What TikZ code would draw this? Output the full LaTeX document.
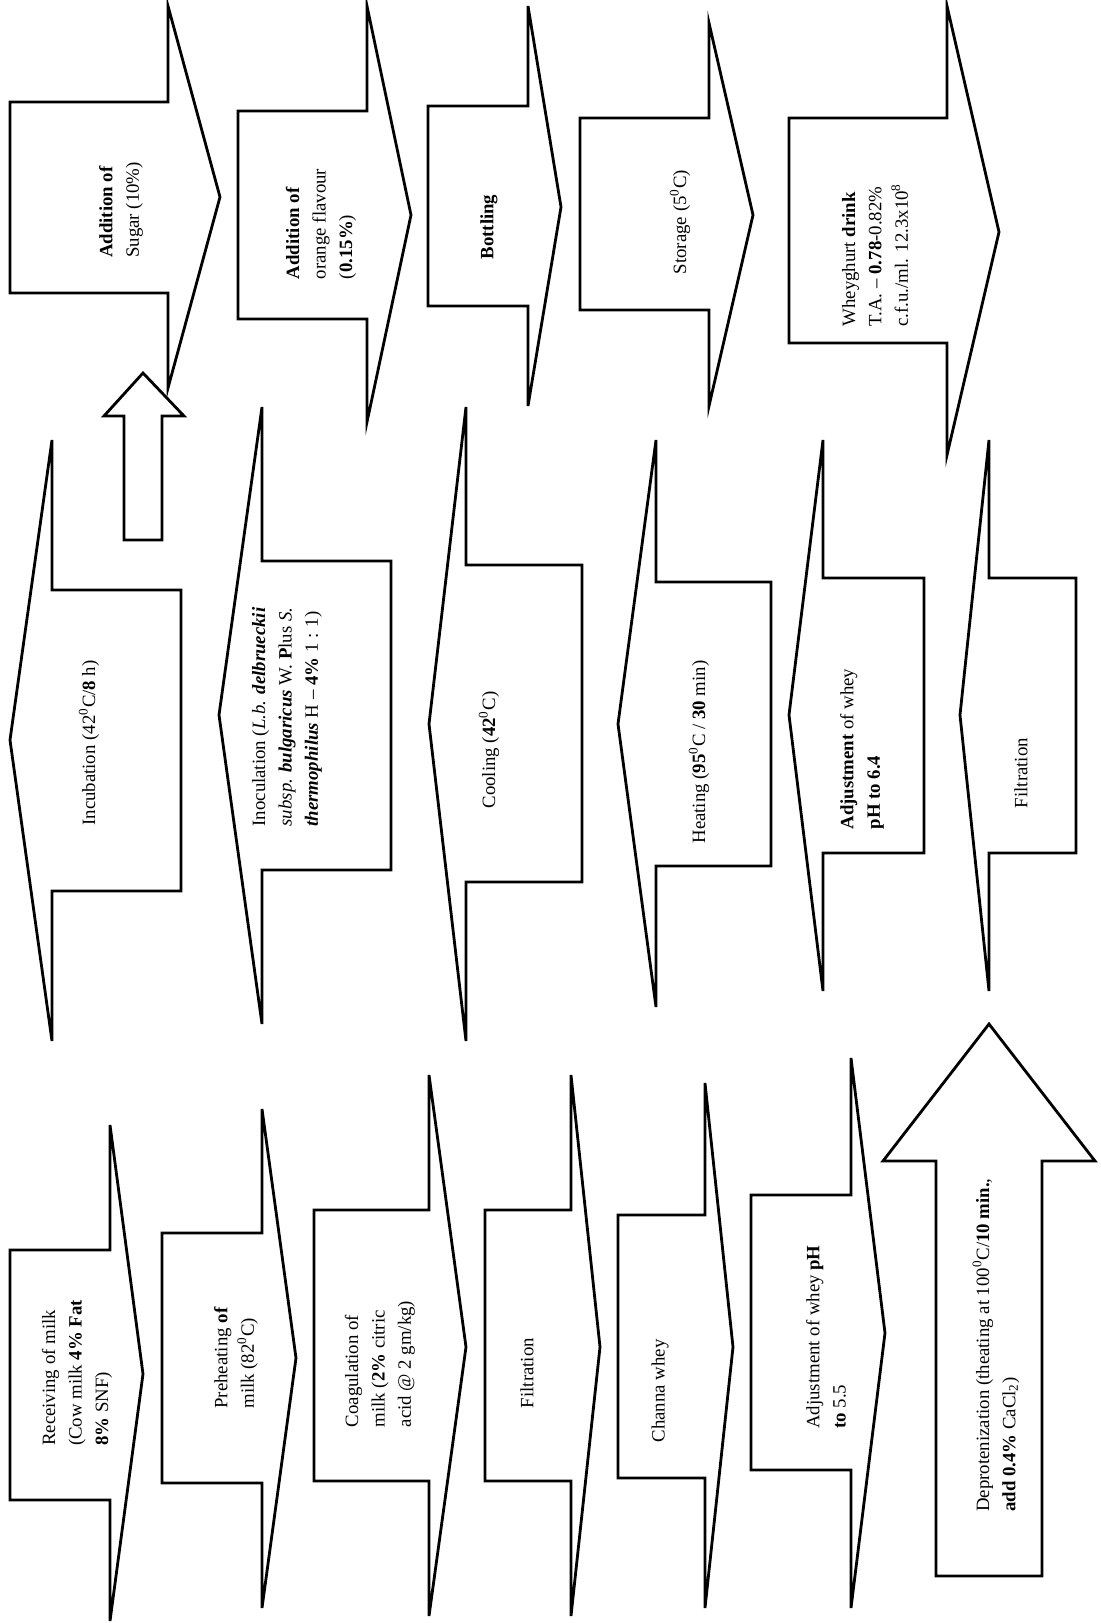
\documentclass[tikz,border=0pt]{standalone}
\usepackage{fontspec}
\setmainfont{Liberation Serif}
\usepackage{tikz}
% one process step: outer x, top, bottom, neck x, head top, head bottom, tip x, tip y
\newcommand{\stepshape}[8]{%
  \draw[blockline] (#1,#2) -- (#4,#2) -- (#4,#5) -- (#7,#8) -- (#4,#6) -- (#4,#3) -- (#1,#3) -- cycle;}
% upward arrow: shaft left, shaft right, bottom, head base, head left, head right, apex x, apex y
\newcommand{\uparrowshape}[8]{%
  \draw[blockline] (#1,#3) -- (#1,#4) -- (#5,#4) -- (#7,#8) -- (#6,#4) -- (#2,#4) -- (#2,#3) -- cycle;}

\begin{document}
\begin{tikzpicture}[
  x=0.5pt, y=-0.5pt,
  blockline/.style={line width=1.4pt,fill=white,line join=miter},
  steptext/.style={rotate=90,align=left,inner sep=0pt,font=\fontsize{9.4}{13.2}\selectfont}
]
\useasboundingbox (0,0) rectangle (1101,1623);
% bottom row: milk to whey, pointing right
\stepshape{10}{1250}{1500}{110}{1125}{1621}{143}{1374}
\stepshape{162}{1233}{1483}{262}{1109}{1608}{296}{1358}
\stepshape{314}{1210}{1481}{429}{1075}{1616}{466}{1347}
\stepshape{485}{1210}{1481}{571}{1075}{1616}{600}{1347}
\stepshape{618}{1215}{1478}{705}{1083}{1608}{733}{1347}
\stepshape{751}{1195}{1470}{851}{1058}{1608}{885}{1333}
\uparrowshape{936}{1042}{1576}{1161}{883}{1095}{989}{1024}
% middle row: pointing left
\stepshape{181}{590}{891}{52}{440}{1041}{10}{740}
\stepshape{391}{561}{870}{262}{407}{1024}{219}{715}
\stepshape{582}{565}{882}{466}{407}{1041}{429}{724}
\stepshape{771}{582}{866}{656}{440}{1007}{618}{724}
\stepshape{924}{578}{853}{823}{440}{991}{789}{715}
\stepshape{1076}{578}{853}{989}{440}{991}{960}{715}
\uparrowshape{124}{162}{540}{416}{104}{184}{143}{373}
% top row: pointing right
\stepshape{10}{102}{293}{168}{6}{388}{220}{197}
\stepshape{238}{111}{319}{367}{6}{422}{411}{215}
\stepshape{428}{106}{306}{528}{6}{406}{561}{207}
\stepshape{580}{118}{310}{709}{23}{406}{753}{215}
\stepshape{789}{118}{343}{947}{6}{455}{999}{232}
% labels
\node[steptext] (recv) at (77,1373) {Receiving of milk\\(Cow milk \textbf{4\%} \textbf{Fat}\\\textbf{8\%} SNF)};
\node[steptext] (preh) at (236,1358) {Preheating \textbf{of}\\milk (82\textsuperscript{0}C)};
\node[steptext] (coag) at (380,1364) {Coagulation of\\milk (\textbf{2\%} citric\\acid @ 2 gm/kg)};
\node[steptext] (filta) at (527,1373) {Filtration};
\node[steptext] (chan) at (660,1391) {Channa whey};
\node[steptext] (adja) at (826,1337) {Adjustment of whey \textbf{pH}\\\textbf{to} 5.5};
\node[steptext] (depr) at (996,1345) {Deprotenization (theating at 100\textsuperscript{0}C/\textbf{10 min.},\\\textbf{add 0.4\%} CaCl\textsubscript{2})};
\node[steptext] (incu) at (89,743) {Incubation (42\textsuperscript{0}C/\textbf{8} h)};
\node[steptext] (inoc) at (287,717) {Inoculation (\textit{L.b.} \textbf{\textit{delbrueckii}}\\\textit{subsp.} \textbf{\textit{bulgaricus}} W. \textbf{P}lus \textit{S.}\\\textbf{\textit{thermophilus}} H -- \textbf{4\%} 1 : 1)};
\node[steptext] (cool) at (489,750) {Cooling (\textbf{42}\textsuperscript{0}C)};
\node[steptext] (heat) at (699,752) {Heating (\textbf{95}\textsuperscript{0}C / \textbf{30} min)};
\node[steptext] (adjb) at (862,749) {\textbf{Adjustment} of whey\\\textbf{pH to 6.4}};
\node[steptext] (filtb) at (1021,773) {Filtration};
\node[steptext] (sugr) at (121,210) {\textbf{Addition of}\\Sugar (10\%)};
\node[steptext] (flav) at (321,224) {\textbf{Addition of}\\orange flavour\\(\textbf{0.15\%})};
\node[steptext] (bott) at (489,227) {\textbf{Bottling}};
\node[steptext] (stor) at (680,222) {Storage (5\textsuperscript{0}C)};
\node[steptext] (whey) at (875,255) {Wheyghurt \textbf{drink}\\T.A. -- \textbf{0.78}-0.82\%\\c.f.u./ml. 12.3x10\textsuperscript{8}};
\end{tikzpicture}
\end{document}
